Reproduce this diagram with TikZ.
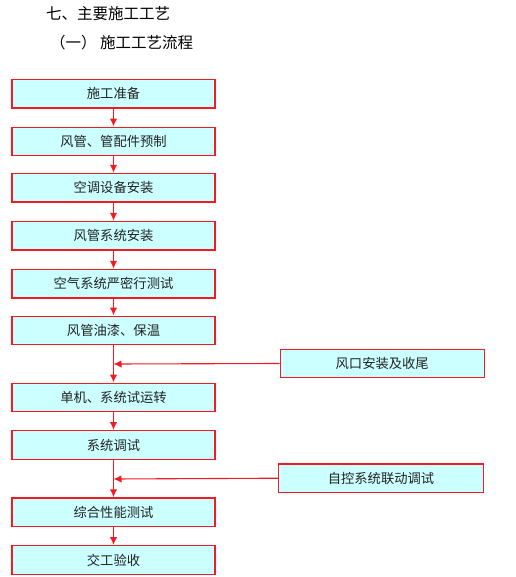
\documentclass[tikz,border=0pt]{standalone}
\usepackage{fontspec}
\newfontfamily\cjk{Noto Sans CJK SC}
\usetikzlibrary{arrows.meta}
\definecolor{boxfill}{HTML}{CCFFFF}
\definecolor{boxline}{HTML}{F21B24}
\definecolor{txt}{HTML}{222222}
\tikzset{
  stepbox/.style={draw=boxline, line width=1.3pt, fill=boxfill, minimum width=203pt, minimum height=28.5pt, inner sep=0pt, font=\cjk\fontsize{13.3}{15}\selectfont, text=txt},
  flow/.style={draw=boxline, line width=1.5pt, -{Latex[length=8pt,width=7.5pt]}},
  link/.style={draw=boxline, line width=1.1pt, -{Latex[length=8pt,width=7.5pt]}},
  heading/.style={font=\cjk\fontsize{15.5}{17}\selectfont, text=black, anchor=west, inner sep=0pt}
}
\begin{document}
\begin{tikzpicture}[x=1pt,y=-1pt]
\useasboundingbox (0,0) rectangle (515,577);
\node[heading] (t1) at (46,13.5) {七、主要施工工艺};
\node[heading] (t2) at (50,43) {（一）\ 施工工艺流程};
\node[stepbox] (b1) at (113.5,93.7) {施工准备};
\node[stepbox] (b2) at (113.5,141.5) {风管、管配件预制};
\node[stepbox] (b3) at (113.5,187.7) {空调设备安装};
\node[stepbox] (b4) at (113.5,235.7) {风管系统安装};
\node[stepbox] (b5) at (113.5,283.7) {空气系统严密行测试};
\node[stepbox] (b6) at (113.5,330.5) {风管油漆、保温};
\node[stepbox] (b7) at (113.5,397.5) {单机、系统试运转};
\node[stepbox] (b8) at (113.5,445) {系统调试};
\node[stepbox] (b9) at (113.5,512.2) {综合性能测试};
\node[stepbox] (b10) at (113.5,560) {交工验收};
\node[stepbox, minimum width=204pt] (s1) at (382.2,363.5) {风口安装及收尾};
\node[stepbox, minimum width=204.5pt] (s2) at (381,478.2) {自控系统联动调试};
\coordinate (j1) at (113.5,364);
\coordinate (j2) at (113.5,479);
\draw[flow] (b1) -- (b2);
\draw[flow] (b2) -- (b3);
\draw[flow] (b3) -- (b4);
\draw[flow] (b4) -- (b5);
\draw[flow] (b5) -- (b6);
\draw[flow] (b6) -- (b7);
\draw[flow] (b7) -- (b8);
\draw[flow] (b8) -- (b9);
\draw[flow] (b9) -- (b10);
\draw[link] (s1.west) -- (j1);
\draw[link] (s2.west) -- (j2);
\end{tikzpicture}
\end{document}
